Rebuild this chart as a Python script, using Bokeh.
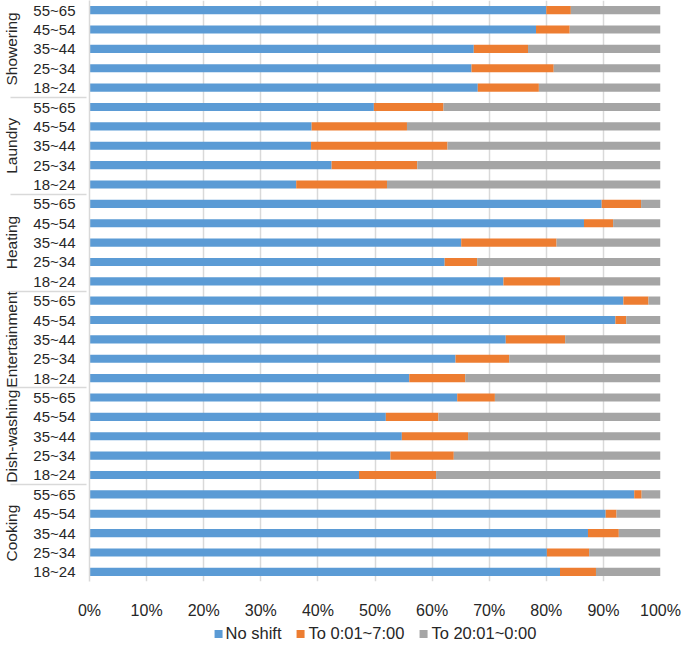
from bokeh.plotting import figure
from bokeh.layouts import column
from bokeh.models import FactorRange, ColumnDataSource, Legend, LegendItem, PrintfTickFormatter, FixedTicker, Range1d
from bokeh.embed import file_html
from bokeh.resources import INLINE

# Groups and age bands, listed top to bottom as in the chart
groups = ["Showering", "Laundry", "Heating", "Entertainment", "Dish-washing", "Cooking"]
ages = ["55~65", "45~54", "35~44", "25~34", "18~24"]
series_names = ["No shift", "To 0:01~7:00", "To 20:01~0:00"]
x_ticks = [0, 10, 20, 30, 40, 50, 60, 70, 80, 90, 100]

# Percent values per group (ages top to bottom)
no_shift = {
    "Showering":     [80.0, 78.2, 67.3, 66.9, 68.0],
    "Laundry":       [49.8, 38.9, 38.8, 42.4, 36.2],
    "Heating":       [89.7, 86.6, 65.1, 62.2, 72.5],
    "Entertainment": [93.5, 92.1, 72.9, 64.1, 56.0],
    "Dish-washing":  [64.4, 51.9, 54.7, 52.7, 47.2],
    "Cooking":       [95.4, 90.4, 87.3, 80.1, 82.4],
}
to_early = {
    "Showering":     [4.3, 5.9, 9.5, 14.4, 10.7],
    "Laundry":       [12.2, 16.7, 23.9, 15.0, 15.9],
    "Heating":       [6.9, 5.1, 16.7, 5.7, 9.9],
    "Entertainment": [4.4, 1.9, 10.4, 9.4, 9.8],
    "Dish-washing":  [6.6, 9.2, 11.6, 11.1, 13.5],
    "Cooking":       [1.3, 1.9, 5.4, 7.4, 6.3],
}
to_late = {
    "Showering":     [15.7, 15.9, 23.2, 18.7, 21.3],
    "Laundry":       [38.0, 44.4, 37.3, 42.6, 47.9],
    "Heating":       [3.4, 8.3, 18.2, 32.1, 17.6],
    "Entertainment": [2.1, 6.0, 16.7, 26.5, 34.2],
    "Dish-washing":  [29.0, 38.9, 33.7, 36.2, 39.3],
    "Cooking":       [3.3, 7.7, 7.3, 12.5, 11.3],
}

colors = ["#5B9BD5", "#ED7D31", "#A5A5A5"]
FONT = "Liberation Sans"
TXT = "#262626"

# Bokeh draws the first factor at the bottom, so reverse
factors, a_vals, b_vals, c_vals = [], [], [], []
for g in reversed(groups):
    for i in reversed(range(len(ages))):
        factors.append((g, ages[i]))
        a_vals.append(no_shift[g][i])
        b_vals.append(to_early[g][i])
        c_vals.append(to_late[g][i])

source = ColumnDataSource(dict(y=factors, a=a_vals, b=b_vals, c=c_vals))

p = figure(frame_width=571, frame_height=581, output_backend="svg", toolbar_location=None,
           y_range=FactorRange(*factors, group_padding=0, factor_padding=0, range_padding=0),
           x_range=Range1d(0, 100))

renderers = p.hbar_stack(["a", "b", "c"], y="y", height=0.42, color=colors,
                         source=source, line_width=0)

p.min_border_left = 81
p.min_border_top = 0
p.min_border_right = 22
p.min_border_bottom = 0
p.outline_line_color = None

p.xaxis.ticker = FixedTicker(ticks=x_ticks)
p.xaxis.formatter = PrintfTickFormatter(format="%d%%")
p.xaxis.axis_line_color = None
p.xaxis.major_tick_line_color = None
p.xaxis.minor_tick_line_color = None
p.xaxis.major_tick_out = 0
p.xaxis.major_tick_in = 0
p.xaxis.minor_tick_out = 0
p.xaxis.major_label_text_font = FONT
p.xaxis.major_label_text_font_size = "16px"
p.xaxis.major_label_text_color = TXT
p.xaxis.major_label_standoff = 20

p.yaxis.axis_line_color = "#d9d9d9"
p.yaxis.axis_line_width = 1.5
p.yaxis.major_tick_line_color = None
p.yaxis.minor_tick_line_color = None
p.yaxis.major_tick_out = 4
p.yaxis.major_label_standoff = 10
p.yaxis.major_label_text_font = FONT
p.yaxis.major_label_text_font_size = "15px"
p.yaxis.major_label_text_color = TXT
p.yaxis.group_text_font = FONT
p.yaxis.group_text_font_size = "15.5px"
p.yaxis.group_text_font_style = "normal"
p.yaxis.group_text_color = TXT
p.yaxis.separator_line_color = "#d9d9d9"
p.yaxis.separator_line_width = 1.5

p.xgrid.grid_line_color = "#d9d9d9"
p.xgrid.grid_line_width = 1.5
p.ygrid.grid_line_color = None

# Separate strip holding the legend, placed under the chart
lg = figure(frame_width=571, frame_height=24, output_backend="svg", toolbar_location=None,
            x_range=Range1d(0, 1), y_range=Range1d(0, 1))
lg.min_border_left = 81
lg.min_border_right = 22
lg.min_border_top = 0
lg.min_border_bottom = 0
lg.outline_line_color = None
lg.axis.visible = False
lg.grid.visible = False
# legend swatches only: a point lying outside the strip's visible range
hidden = ColumnDataSource(dict(x=[-5.0], y=[-5.0]))
dummies = [lg.rect(x="x", y="y", width=0.01, height=0.01, fill_color=c, line_color=None, source=hidden)
           for c in colors]
legend = Legend(items=[LegendItem(label=n, renderers=[r]) for n, r in zip(series_names, dummies)],
                orientation="horizontal", location="center",
                label_text_font=FONT, label_text_font_size="16.5px", label_text_color=TXT,
                glyph_width=10, glyph_height=10, label_height=16, spacing=14, label_standoff=3,
                border_line_color=None, background_fill_alpha=0, padding=0, margin=0)
lg.add_layout(legend, "center")

layout = column(p, lg, spacing=0)
open("out.html", "w").write(file_html(layout, INLINE))
